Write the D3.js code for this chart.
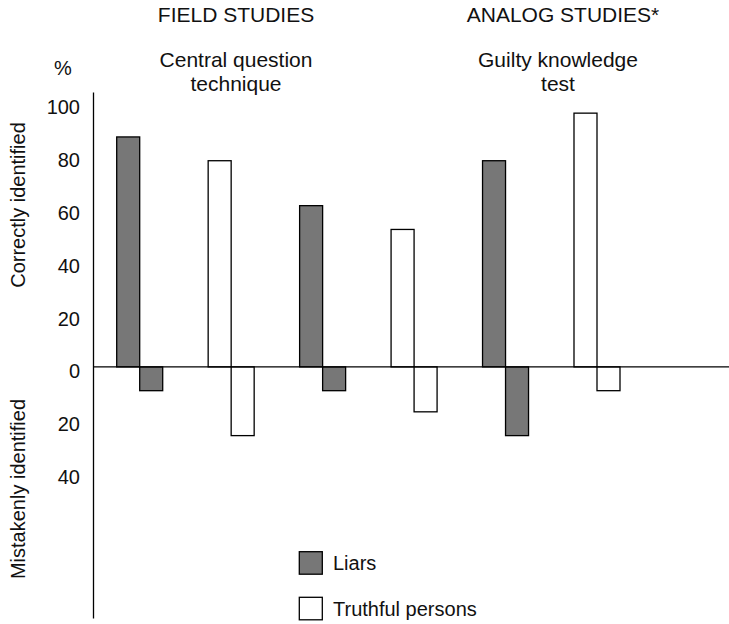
<!DOCTYPE html>
<html>
<head>
<meta charset="utf-8">
<script src="https://cdn.jsdelivr.net/npm/d3@7"></script>
<style>
  html, body { margin: 0; padding: 0; background: #fff; }
  svg { display: block; }
  text { font-family: "Liberation Sans", Arial, Helvetica, sans-serif; fill: #111; }
</style>
</head>
<body>
<svg id="chart" width="729" height="624"></svg>
<script>
// ---- data ----
const categories = ["CQT-1", "CQT-2", "CQT-3", "CQT-4", "GKT-1", "GKT-2"];
const groups = ["Liars", "Truthful persons", "Liars", "Truthful persons", "Liars", "Truthful persons"];
const correctlyIdentified = [87, 78, 61, 52, 78, 96];
const mistakenlyIdentified = [9, 26, 9, 17, 26, 9];
const tickValues = [100, 80, 60, 40, 20, 0, -20, -40];
const legendItems = ["Liars", "Truthful persons"];
const headings = [
  { lines: ["FIELD STUDIES"], cx: 236 },
  { lines: ["ANALOG STUDIES*"], cx: 563 }
];
const subHeadings = [
  { lines: ["Central question", "technique"], cx: 236 },
  { lines: ["Guilty knowledge", "test"], cx: 558 }
];

const colors = { "Liars": "#777777", "Truthful persons": "#ffffff" };

const svg = d3.select("#chart");

const x = d3.scaleBand().domain(categories).range([116.7, 620]).paddingInner(0.497).paddingOuter(0);
const xSub = d3.scaleBand().domain(["correct", "mistaken"]).range([0, x.bandwidth()]);
const y = d3.scaleLinear().domain([-95, 104]).range([618, 92]);
const axisX = 93;

// y axis
const yAxis = d3.axisLeft(y)
  .tickValues(tickValues)
  .tickSize(0)
  .tickSizeOuter(0)
  .tickPadding(13)
  .tickFormat(d => Math.abs(d));
const ga = svg.append("g").attr("transform", `translate(${axisX},0)`).call(yAxis);
ga.select(".domain").attr("stroke", "#000").attr("stroke-width", 1.3);
ga.selectAll("text")
  .attr("dy", "0.55em")
  .style("font-size", "20px")
  .style("font-family", "'Liberation Sans', Arial, sans-serif")
  .attr("fill", "#111");

// bars
const data = categories.map((c, i) => ({ c, g: groups[i], pos: correctlyIdentified[i], neg: mistakenlyIdentified[i] }));
const bars = svg.append("g");
bars.selectAll("rect.pos").data(data).join("rect")
  .attr("class", "pos")
  .attr("x", d => x(d.c) + xSub("correct"))
  .attr("width", xSub.bandwidth())
  .attr("y", d => y(d.pos))
  .attr("height", d => y(0) - y(d.pos))
  .attr("fill", d => colors[d.g])
  .attr("stroke", "#000").attr("stroke-width", 1.3);
bars.selectAll("rect.neg").data(data).join("rect")
  .attr("class", "neg")
  .attr("x", d => x(d.c) + xSub("mistaken"))
  .attr("width", xSub.bandwidth())
  .attr("y", y(0))
  .attr("height", d => y(-d.neg) - y(0))
  .attr("fill", d => colors[d.g])
  .attr("stroke", "#000").attr("stroke-width", 1.3);

// zero line
svg.append("line")
  .attr("x1", axisX).attr("x2", 729)
  .attr("y1", y(0)).attr("y2", y(0))
  .attr("stroke", "#000").attr("stroke-width", 1.3);

// headings
headings.forEach(h => {
  svg.append("text").attr("x", h.cx).attr("y", 22)
    .attr("text-anchor", "middle").style("font-size", "21px").text(h.lines[0]);
});
subHeadings.forEach(h => {
  h.lines.forEach((l, i) => {
    svg.append("text").attr("x", h.cx).attr("y", 67 + i * 24)
      .attr("text-anchor", "middle").style("font-size", "21px").text(l);
  });
});
svg.append("text").attr("x", 63).attr("y", 75).attr("text-anchor", "middle")
  .style("font-size", "20px").text("%");

// rotated axis titles
svg.append("text")
  .attr("transform", `translate(25,205)rotate(-90)`)
  .attr("text-anchor", "middle").style("font-size", "20px")
  .text("Correctly identified");
svg.append("text")
  .attr("transform", `translate(25,489)rotate(-90)`)
  .attr("text-anchor", "middle").style("font-size", "20px")
  .text("Mistakenly identified");

// legend
const legend = svg.append("g");
legendItems.forEach((name, i) => {
  const ly = 551.7 + i * 45.6;
  legend.append("rect").attr("x", 299.3).attr("y", ly).attr("width", 23).attr("height", 22.5)
    .attr("fill", colors[name]).attr("stroke", "#000").attr("stroke-width", 1.3);
  legend.append("text").attr("x", 333).attr("y", ly + 18.5)
    .style("font-size", "20px").text(name);
});
</script>
</body>
</html>
